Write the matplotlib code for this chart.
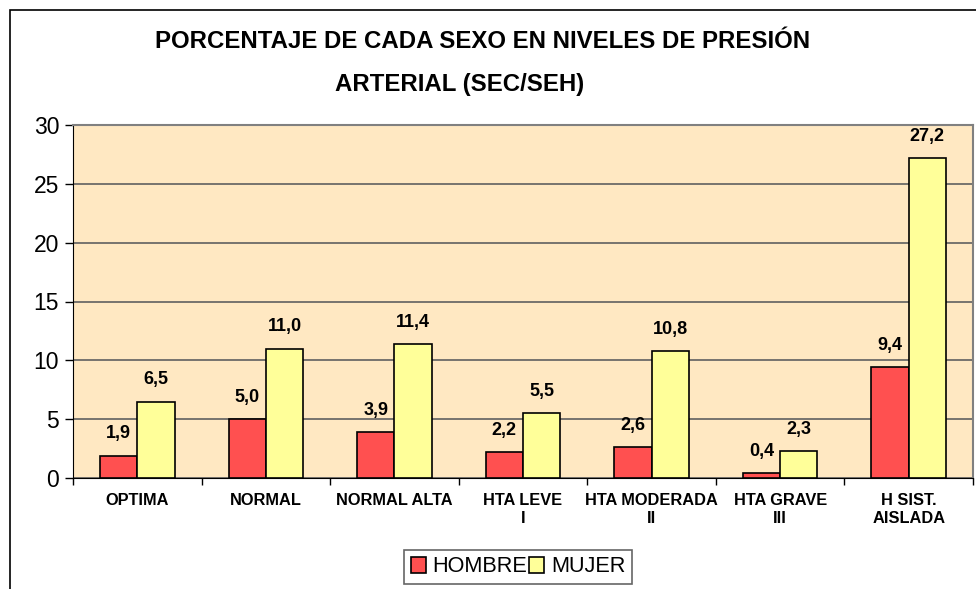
import numpy as np
import matplotlib
matplotlib.use('Agg')
import matplotlib.pyplot as plt
from matplotlib.patches import Rectangle

plt.rcParams['font.family'] = ['Liberation Sans', 'DejaVu Sans']

# data
categories = ['OPTIMA', 'NORMAL', 'NORMAL ALTA', 'HTA LEVE\nI', 'HTA MODERADA\nII',
              'HTA GRAVE\nIII', 'H SIST.\nAISLADA']
hombre = [1.9, 5.0, 3.9, 2.2, 2.6, 0.4, 9.4]
mujer = [6.5, 11.0, 11.4, 5.5, 10.8, 2.3, 27.2]
series_names = ['HOMBRE', 'MUJER']
yticks = [0, 5, 10, 15, 20, 25, 30]

fig = plt.figure(figsize=(9.76, 5.89), dpi=100)
ax = fig.add_axes([73/976, 1 - 478/589, 900/976, 353/589])

# outer chart border
fig.patches.append(Rectangle((10/976, -0.1), 1.2, 1.1 - 10/589,
                             transform=fig.transFigure, fill=False,
                             edgecolor='black', linewidth=1.2))

x = np.arange(len(categories))
w = 0.29
ax.set_facecolor('#FFE8C2')
b1 = ax.bar(x - w/2, hombre, w, color='#FF5050', edgecolor='black', linewidth=1.2,
            label=series_names[0], zorder=3)
b2 = ax.bar(x + w/2, mujer, w, color='#FFFF99', edgecolor='black', linewidth=1.2,
            label=series_names[1], zorder=3)

for bars in (b1, b2):
    for r in bars:
        h = r.get_height()
        ax.annotate(f'{h:.1f}'.replace('.', ','), (r.get_x() + r.get_width()/2, h),
                    xytext=(0, 9.5), textcoords='offset points', ha='center', va='bottom',
                    fontsize=13, fontweight='bold')

ax.set_xlim(-0.5, len(categories) - 0.5)
ax.set_ylim(0, 30)
ax.set_yticks(yticks)
ax.tick_params(axis='y', labelsize=16.5, length=6, width=1, pad=4)
ax.yaxis.grid(True, color='#606060', linewidth=1.2, zorder=0)

ax.set_xticks(np.arange(len(categories) + 1) - 0.5)
ax.set_xticklabels([])
ax.tick_params(axis='x', length=5, width=1)
ax.set_xticks(x, minor=True)
ax.set_xticklabels(categories, minor=True, fontsize=11.8, fontweight='bold')
ax.tick_params(axis='x', which='minor', length=0, pad=11)

for s in ('left', 'bottom'):
    ax.spines[s].set_color('black')
for s in ('top', 'right'):
    ax.spines[s].set_color('#808080')
    ax.spines[s].set_linewidth(1.5)

fig.text(483/976, 1 - 42/589, 'PORCENTAJE DE CADA SEXO EN NIVELES DE PRESIÓN',
         ha='center', va='center', fontsize=17.3, fontweight='bold')
fig.text(460/976, 1 - 85/589, 'ARTERIAL (SEC/SEH)',
         ha='center', va='center', fontsize=17.3, fontweight='bold')

leg = fig.legend(handles=[b1, b2], loc='center', bbox_to_anchor=(518/976, 1 - 567/589),
                 ncol=2, fontsize=15.6, frameon=True, fancybox=False, edgecolor='#404040',
                 handlelength=0.7, handleheight=0.7, handletextpad=0.3, columnspacing=0.1,
                 borderpad=0.3)
leg.get_frame().set_linewidth(1.2)

fig.savefig('out.png', dpi=100)
